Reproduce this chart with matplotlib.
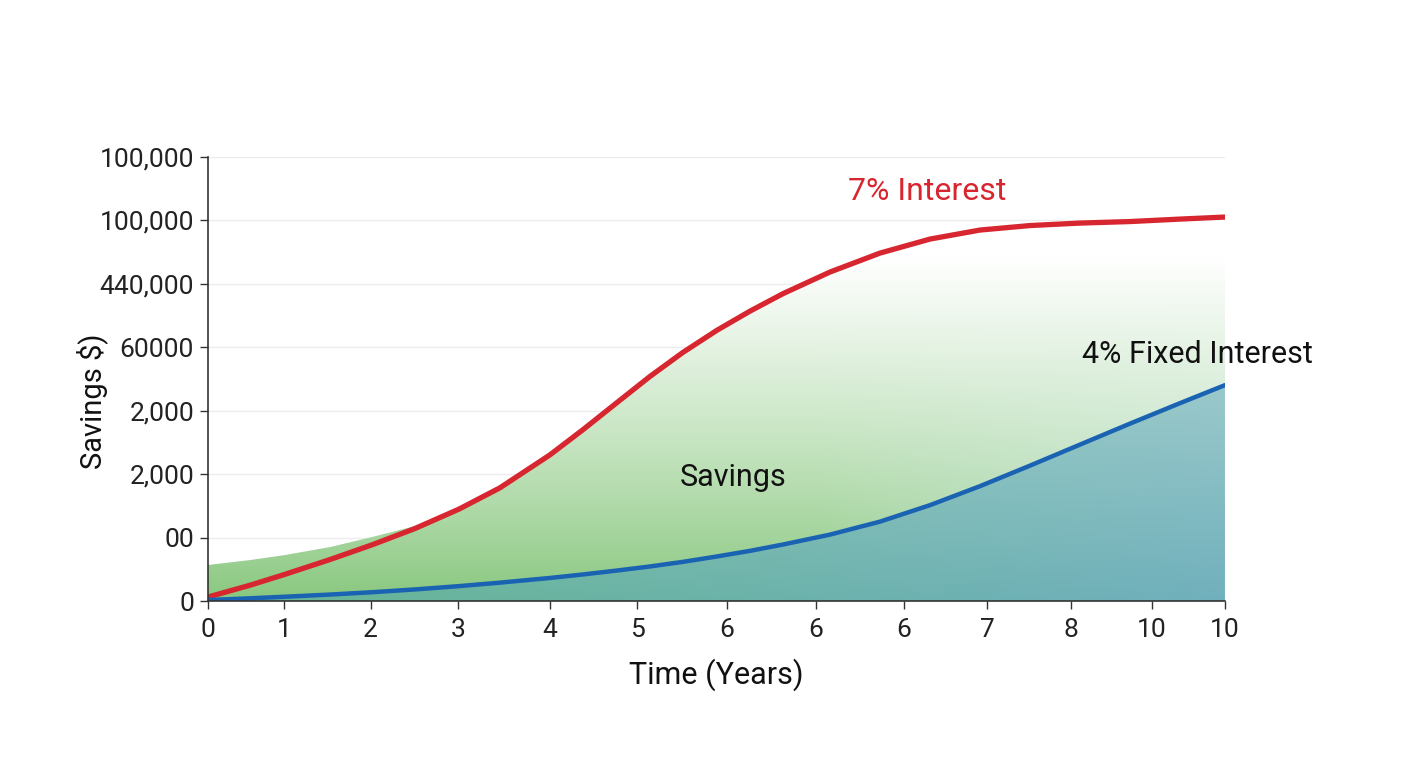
import numpy as np
import matplotlib
matplotlib.use("Agg")
import matplotlib.pyplot as plt
from matplotlib.patches import Polygon

plt.rcParams['font.family'] = ['Roboto', 'DejaVu Sans']

# =========================================================
# DATA
# =========================================================

years = [0, 0.413, 0.757, 1.200, 1.613, 2.035, 2.468, 2.871, 3.363, 3.687, 4.022,
         4.346, 4.671, 5.005, 5.329, 5.654, 6.116, 6.608, 7.100, 7.591, 8.083,
         8.574, 9.066, 9.558, 10.0]

savings_7pct = [0.063, 0.249, 0.421, 0.654, 0.886, 1.143, 1.449, 1.785, 2.305, 2.701, 3.129,
                3.541, 3.921, 4.269, 4.570, 4.846, 5.187, 5.486, 5.707, 5.849, 5.920,
                5.959, 5.983, 6.022, 6.054]

savings_4pct = [0.016, 0.043, 0.068, 0.102, 0.139, 0.183, 0.235, 0.290, 0.364, 0.419, 0.481,
                0.545, 0.618, 0.703, 0.791, 0.891, 1.047, 1.252, 1.512, 1.811, 2.135,
                2.466, 2.797, 3.120, 3.404]

# soft green band at the start, above the red line
band_top = [0.568, 0.646, 0.725, 0.851, 1.009, 1.182] + [np.nan] * 19

x_tick_pos = [0, 0.747, 1.60, 2.46, 3.36, 4.22, 5.10, 5.98, 6.84, 7.66, 8.49, 9.28, 10.0]
x_tick_labels = ["0", "1", "2", "3", "4", "5", "6", "6", "6", "7", "8", "10", "10"]

y_tick_labels = ["0", "00", "2,000", "2,000", "60000", "440,000", "100,000", "100,000"]

# =========================================================
# FIGURE
# =========================================================

fig = plt.figure(figsize=(14.08, 7.68), dpi=100)
ax = fig.add_axes([0.1477, 0.2174, 0.7223, 0.5781])

x = np.array(years)
red = np.array(savings_7pct)
blue = np.array(savings_4pct)
top = np.fmax(red, np.array(band_top))

# gradient colours (styling only)
H, W = 300, 500
gx, gy = np.meshgrid(np.linspace(0, 10, W), np.linspace(0, 7, H))

green = np.array([0.53, 0.78, 0.49])
teal_up = np.array([0.68, 0.85, 0.80])
white = np.array([1.0, 1.0, 1.0])
t = np.clip(gy / 5.4, 0, 1)[..., None] ** 0.85
s = np.clip((gx - 6.0) / 4.0, 0, 1)[..., None] * np.clip(1 - gy / 5.0, 0, 1)[..., None]
base = green * (1 - s) + teal_up * s
upper_img = base * (1 - t) + white * t

left_c = np.array([0.40, 0.71, 0.58])
right_c = np.array([0.44, 0.69, 0.74])
light_c = np.array([0.76, 0.88, 0.85])
h = (gx / 10.0)[..., None]
v = (np.clip(gy / 4.0, 0, 1) * 0.6)[..., None]
lower_img = (left_c * (1 - h) + right_c * h) * (1 - v) + light_c * v

upper_patch = Polygon(np.column_stack([np.r_[x, x[::-1]], np.r_[top, blue[::-1]]]),
                      facecolor='none', edgecolor='none', transform=ax.transData)
lower_patch = Polygon(np.column_stack([np.r_[x, x[::-1]], np.r_[blue, np.zeros_like(blue)]]),
                      facecolor='none', edgecolor='none', transform=ax.transData)
ax.add_patch(upper_patch)
ax.add_patch(lower_patch)

im1 = ax.imshow(upper_img, extent=(0, 10, 0, 7), origin='lower', aspect='auto', zorder=1)
im1.set_clip_path(upper_patch)
im2 = ax.imshow(lower_img, extent=(0, 10, 0, 7), origin='lower', aspect='auto', zorder=1)
im2.set_clip_path(lower_patch)

# lines
ax.plot(x, red, color='#d7262f', linewidth=3.8, solid_capstyle='round',
        solid_joinstyle='round', zorder=4)
ax.plot(x, blue, color='#1a63b2', linewidth=3.2, solid_capstyle='round',
        solid_joinstyle='round', zorder=4)

# labels on the chart
ax.text(7.07, 6.45, "7% Interest", color='#d7262f', fontsize=23, ha='center', va='center', zorder=5)
ax.text(8.59, 3.89, "4% Fixed Interest", color='#111111', fontsize=22, ha='left', va='center', zorder=5)
ax.text(5.16, 1.94, "Savings", color='#111111', fontsize=22, ha='center', va='center', zorder=5)

# axes styling
ax.set_xlim(0, 10)
ax.set_ylim(0, 7)

ax.set_yticks(range(len(y_tick_labels)))
ax.set_yticklabels(y_tick_labels, fontsize=19, color='#222222')
ax.set_xticks(x_tick_pos)
ax.set_xticklabels(x_tick_labels, fontsize=19, color='#222222')

ax.grid(True, axis='y', color='#ececec', linewidth=1.0, zorder=0)
ax.set_axisbelow(True)

for side in ['top', 'right']:
    ax.spines[side].set_visible(False)
for side in ['left', 'bottom']:
    ax.spines[side].set_color('#333333')
    ax.spines[side].set_linewidth(1.2)
    ax.spines[side].set_zorder(6)

ax.tick_params(axis='both', direction='out', length=6, width=1.0, color='#333333')
ax.tick_params(axis='y', pad=4)
ax.tick_params(axis='x', pad=6)

ax.set_xlabel("Time (Years)", fontsize=22, color='#111111', labelpad=12)
ax.set_ylabel("Savings $)", fontsize=21, color='#111111')
ax.yaxis.set_label_coords(-0.098, 0.45)

plt.savefig("out.png", dpi=100)
